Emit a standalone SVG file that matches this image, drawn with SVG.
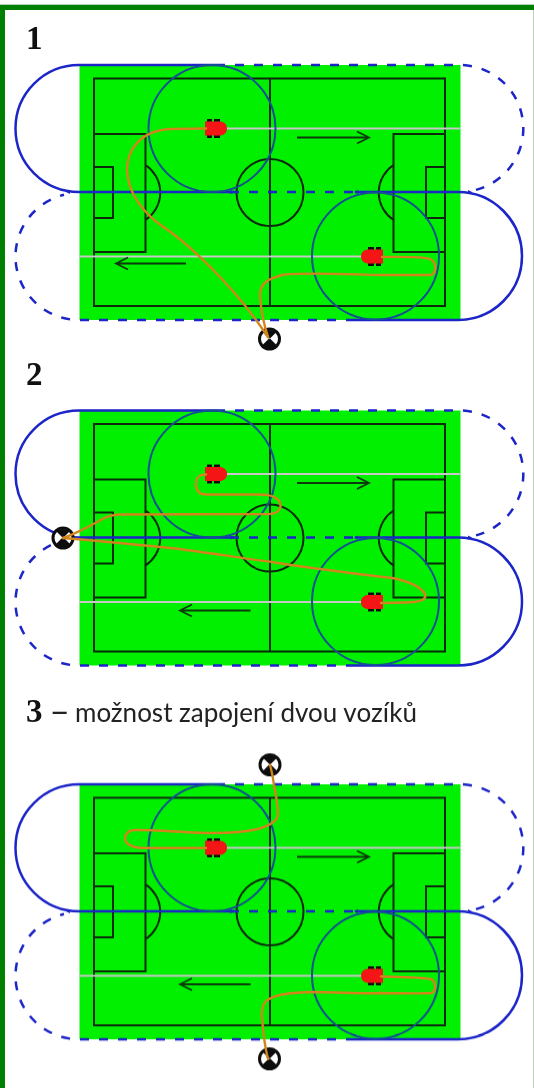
<svg xmlns="http://www.w3.org/2000/svg" width="534" height="1088" viewBox="0 0 534 1088">
<style>
.line{fill:none;stroke:#0c2a0c;stroke-width:2}
.blue{fill:none;stroke:#1b25c8;stroke-width:2.500}
.dash{fill:none;stroke:#1b25c8;stroke-width:2.500;stroke-dasharray:9 10}
.big{fill:none;stroke:#134f93;stroke-width:2}
.gray{fill:none;stroke:#c8c8c8;stroke-width:2}
.arrow{fill:none;stroke:#0a3a0a;stroke-width:1.800}
.path{fill:none;stroke:#d0861c;stroke-width:2.400;stroke-linejoin:round;stroke-linecap:round}
.num{font-family:"Liberation Serif",serif;font-weight:bold;font-size:33px;fill:#111}
.cap{font-family:Lato,"Liberation Sans",sans-serif;font-size:26px;fill:#222}
</style>
<defs>
<filter id="soft" x="-5%" y="-5%" width="110%" height="110%"><feGaussianBlur stdDeviation="0.35"/></filter>
<g id="field">
<rect x="79.500" y="65" width="381" height="255" fill="#00f000"/>
<path class="line" d="M94 78.500H445V306H94ZM270 78.500V306M94 134H145.500V252H94M94 167H113V218H94M445 134H393.500V252H445M445 167H426V218H445M145.500 165A33 33 0 0 1 145.500 220M393.500 165A33 33 0 0 0 393.500 220"/>
<circle class="line" cx="270" cy="192.500" r="33.500"/>
<path class="gray" d="M226 128.500H460M79 256.500H362"/>
<path class="dash" d="M216 65H460A63.500 63.500 0 0 1 476 189.900M230 192H359M355 320H79A63.500 63.500 0 0 1 64 194.800"/>
<path class="blue" d="M216 65H79A63.500 63.500 0 0 0 79 192H234M355 192H458A64 64 0 0 1 458 320H355"/>
<path fill="#1b25c8" d="M66 192l4-2v4zM234 192l-4-2v4zM354 192l4-2v4zM472 192l-4-2v4z"/>
<circle class="big" cx="212" cy="128.500" r="63.500"/>
<circle class="big" cx="375.500" cy="256" r="63.500"/>
<path class="arrow" d="M297 137.500H369M357 131.500L369 137.500L357 143.500"/>
</g>
<g id="robotR">
<path fill="#111" d="M-9-9.500h5v19h-5zM-2-9.500h6v19h-6z"/>
<path fill="#f41414" d="M-11-7H5Q11-5.500 11 0Q11 5.500 5 7H-11Z"/>
</g>
<g id="ball">
<circle r="10" fill="#fff" stroke="#111" stroke-width="3"/>
<path fill="#111" d="M-7-7Q0-11 7-7L0 0ZM-8 7Q0 13 8 7L0-1Z"/>
</g>
</defs>
<rect width="534" height="1088" fill="#fff"/>
<g id="frame">
<rect x="0" y="4" width="534" height="1" fill="#b9d0b9"/>
<path fill="#008000" d="M0 5H534V10H5V1088H0Z"/>
<rect x="533" y="10" width="1" height="1078" fill="#b9d0b9"/>
</g>
<g id="panel1" filter="url(#soft)">
<use href="#field"/>
<path class="arrow" d="M186 263.500H116M128 257.500L116 263.500L128 269.500"/>
<use id="p1-robot-a" href="#robotR" x="216" y="128.500"/>
<use id="p1-robot-b" href="#robotR" transform="translate(372 256.500) scale(-1 1)"/>
<use id="p1-ball" href="#ball" x="269.500" y="339"/>
</g>
<g id="panel2" filter="url(#soft)" transform="translate(0 345.500)">
<use href="#field"/>
<path class="arrow" d="M250.500 265H180M192 259L180 265L192 271"/>
<use id="p2-robot-a" href="#robotR" x="216" y="128.500"/>
<use id="p2-robot-b" href="#robotR" transform="translate(372 256.500) scale(-1 1)"/>
<use id="p2-ball" href="#ball" x="63" y="192.500"/>
</g>
<g id="panel3" filter="url(#soft)" transform="translate(0 719.300)">
<use href="#field"/>
<path class="arrow" d="M250.500 265H180M192 259L180 265L192 271"/>
<use id="p3-robot-a" href="#robotR" x="216" y="128.500"/>
<use id="p3-robot-b" href="#robotR" transform="translate(372 256.500) scale(-1 1)"/>
<use id="p3-ball-top" href="#ball" x="270" y="45.500"/>
<use id="p3-ball-bottom" href="#ball" x="269.500" y="339.500"/>
</g>
<g id="connectors" filter="url(#soft)">
<path class="path" d="M268 337C258 322 240 298 220 277C200 256 180 238 162 226C145 214 128 195 127 170C127 150 140 130 172 129L206 128.500"/>
<path class="path" d="M268 337C264 325 261 310 260 295C260 283 268 279 282 275C300 272 340 274 380 275L430 275C437 274 437 262 430 259C420 256 400 257 382 257"/>
<path class="path" d="M63 538C75 534 88 527 99 521C107 516 112 514.500 120 514.500L270 514C281 513 284 504 276 498C270 494 262 494.500 250 494.500H206C198 494.500 196 490 196 484C196 477 199 474.500 206 474.500"/>
<path class="path" d="M63 538C100 541 140 545 170 548C205 552 240 558 272 562C310 568 350 573 392 578C408 581 420 586 425 594C427 600 420 602 405 602.500L381 603"/>
<path class="path" d="M270 765C272 772 273 778 274 785C276 795 278 805 278 815C277 822 268 826 258 829C245 832 235 833 215 833C190 833 160 830 136 830C124 830 123 840 128 844C133 848 140 848 150 848H206"/>
<path class="path" d="M268 1059C265 1048 264 1038 263 1028C262 1018 260 1008 266 1001C275 994 290 993 310 992C340 992 360 994 380 993C400 993 420 994 431 993C437 992 436 980 430 979C420 977 400 977 381 976.500"/>
</g>
<g id="labels">
<text class="num" x="26" y="49">1</text>
<text class="num" x="26" y="385">2</text>
<text class="num" x="26" y="722">3</text>
<text class="cap"><tspan x="49.500" y="723" font-size="35">– </tspan><tspan x="75" y="722">možnost zapojení dvou vozíků</tspan></text>
</g>
</svg>
